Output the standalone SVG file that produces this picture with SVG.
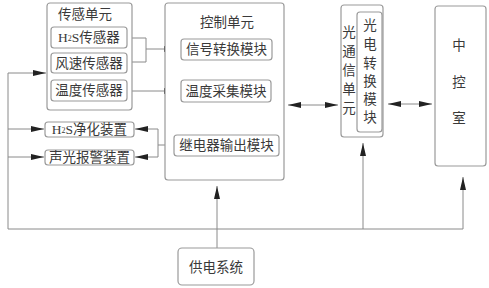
<svg xmlns="http://www.w3.org/2000/svg" width="489" height="288" viewBox="0 0 489 288">
<style>
.box{fill:#fff;stroke:#9a9a9a;stroke-width:1.2}
.ln{fill:none;stroke:#8a8a8a;stroke-width:1}
.t{font-family:"Liberation Serif","Noto Sans CJK SC",serif;font-size:13.5px;fill:#3a3a3a;text-anchor:middle;dominant-baseline:central}
.sub{font-size:8px}
</style>
<defs>
<marker id="ah" markerUnits="userSpaceOnUse" markerWidth="14" markerHeight="7" refX="13" refY="3" orient="auto-start-reverse">
<path d="M0,0 L13,3 L0,6 z" fill="#222"/>
</marker>
</defs>
<rect width="489" height="288" fill="#fff"/>
<g id="connectors">
<path class="ln" d="M127,38 H146 V62 H127"/>
<path class="ln" d="M146,49 H177" marker-end="url(#ah)"/>
<path class="ln" d="M127,91 H177" marker-end="url(#ah)"/>
<path class="ln" d="M8,229 V73 H46" marker-end="url(#ah)"/>
<path class="ln" d="M8,129 H44" marker-end="url(#ah)"/>
<path class="ln" d="M8,157 H44" marker-end="url(#ah)"/>
<path class="ln" d="M174,145 H158"/>
<path class="ln" d="M158,129 V157"/>
<path class="ln" d="M158,129 H135" marker-end="url(#ah)"/>
<path class="ln" d="M158,157 H135" marker-end="url(#ah)"/>
<path class="ln" d="M288,105 H338" marker-start="url(#ah)" marker-end="url(#ah)"/>
<path class="ln" d="M388,104 H432" marker-start="url(#ah)" marker-end="url(#ah)"/>
<path class="ln" d="M8,229 H463 V177" marker-end="url(#ah)"/>
<path class="ln" d="M363,229 V143" marker-end="url(#ah)"/>
<path class="ln" d="M217,248 V186" marker-end="url(#ah)"/>
</g>
<g id="sensor-unit">
<rect class="box" x="47" y="3" width="85" height="107" rx="3"/>
<text class="t" x="85" y="14">传感单元</text>
</g>
<g id="h2s-sensor">
<rect class="box" x="51" y="27" width="76" height="21" rx="3"/>
<text class="t" x="89" y="37.5">H<tspan class="sub">2</tspan>S传感器</text>
</g>
<g id="wind-sensor">
<rect class="box" x="51" y="53" width="76" height="20" rx="3"/>
<text class="t" x="89" y="63">风速传感器</text>
</g>
<g id="temp-sensor">
<rect class="box" x="51" y="80" width="76" height="21" rx="3"/>
<text class="t" x="89" y="90.5">温度传感器</text>
</g>
<g id="h2s-purifier">
<rect class="box" x="45" y="122" width="89" height="15" rx="3"/>
<text class="t" x="89.5" y="129.5">H<tspan class="sub">2</tspan>S净化装置</text>
</g>
<g id="alarm">
<rect class="box" x="45" y="150" width="89" height="15" rx="3"/>
<text class="t" x="89.5" y="157.5">声光报警装置</text>
</g>
<g id="control-unit">
<rect class="box" x="165" y="3" width="119" height="177" rx="3"/>
<text class="t" x="227" y="22">控制单元</text>
</g>
<g id="signal-module">
<rect class="box" x="181" y="39" width="91" height="21" rx="3"/>
<text class="t" x="226.5" y="49.5">信号转换模块</text>
</g>
<g id="temp-module">
<rect class="box" x="181" y="80" width="90" height="22" rx="3"/>
<text class="t" x="226" y="91">温度采集模块</text>
</g>
<g id="relay-module">
<rect class="box" x="174" y="135" width="105" height="21" rx="3"/>
<text class="t" x="226.5" y="145.5">继电器输出模块</text>
</g>
<g id="optical-unit">
<rect class="box" x="341" y="5" width="42" height="132" rx="3"/>
<text class="t"><tspan x="349" y="32">光</tspan><tspan x="349" y="51">通</tspan><tspan x="349" y="70">信</tspan><tspan x="349" y="89">单</tspan><tspan x="349" y="108">元</tspan></text>
</g>
<g id="oe-module">
<rect class="box" x="357" y="12" width="25" height="120" rx="3"/>
<text class="t"><tspan x="370" y="25">光</tspan><tspan x="370" y="44">电</tspan><tspan x="370" y="63">转</tspan><tspan x="370" y="81">换</tspan><tspan x="370" y="99">模</tspan><tspan x="370" y="117">块</tspan></text>
</g>
<g id="central-control">
<rect class="box" x="435" y="6" width="51" height="160" rx="3"/>
<text class="t"><tspan x="459" y="45">中</tspan><tspan x="459" y="82">控</tspan><tspan x="459" y="118">室</tspan></text>
</g>
<g id="power">
<rect class="box" x="178" y="248" width="76" height="37" rx="4"/>
<text class="t" x="216" y="267">供电系统</text>
</g>
</svg>
